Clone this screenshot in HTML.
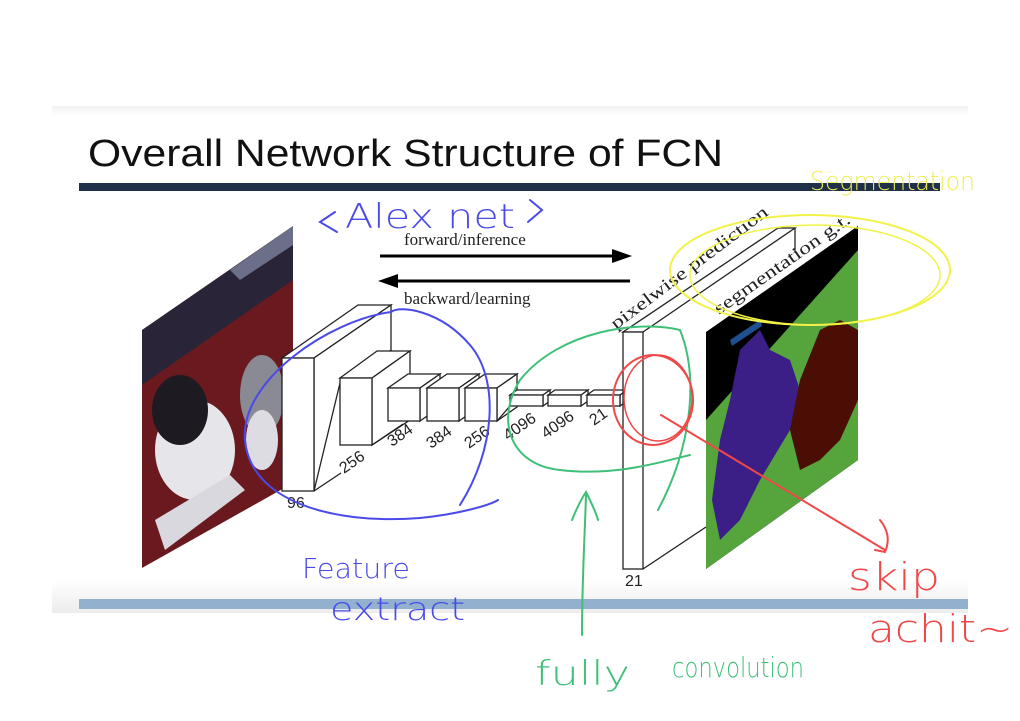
<!DOCTYPE html>
<html><head><meta charset="utf-8"><style>
html,body{margin:0;padding:0;background:#fff;width:1020px;height:721px;overflow:hidden}
svg{display:block}
.hw{font-family:"DejaVu Sans","Liberation Sans",sans-serif;font-weight:200}
</style></head><body>
<svg width="1020" height="721" viewBox="0 0 1020 721" xmlns="http://www.w3.org/2000/svg">
<defs>
<linearGradient id="tg" x1="0" y1="0" x2="0" y2="1"><stop offset="0" stop-color="#f2f2f2"/><stop offset="1" stop-color="#fff"/></linearGradient>
<linearGradient id="bg" x1="0" y1="0" x2="0" y2="1"><stop offset="0" stop-color="#fff"/><stop offset="1" stop-color="#ececec"/></linearGradient>
<clipPath id="pc"><polygon points="142,330 293,226 293,483 142,568"/></clipPath>
<clipPath id="sc"><polygon points="706,332 858,226 858,460 706,569"/></clipPath>
</defs>
<rect x="52" y="106" width="916" height="10" fill="url(#tg)"/>
<rect x="52" y="580" width="916" height="33" fill="url(#bg)"/>
<text x="88" y="166" font-family="Liberation Sans,sans-serif" font-size="38" fill="#111" textLength="635" lengthAdjust="spacingAndGlyphs">Overall Network Structure of FCN</text>
<rect x="79" y="183" width="861" height="8" fill="#1f3048"/>
<rect x="79" y="599" width="889" height="10" fill="#93b1cf"/>

<!-- photo -->
<g clip-path="url(#pc)">
<rect x="140" y="220" width="160" height="360" fill="#6a1a1e"/>
<polygon points="142,330 293,226 293,280 142,385" fill="#2a2438"/>
<polygon points="230,270 293,226 293,245 240,280" fill="#6b6f8a"/>
<ellipse cx="195" cy="450" rx="40" ry="50" fill="#e6e6ea"/>
<ellipse cx="180" cy="410" rx="28" ry="35" fill="#1e1a22"/>
<ellipse cx="262" cy="395" rx="22" ry="40" fill="#8a8a94"/>
<ellipse cx="262" cy="440" rx="16" ry="30" fill="#dcdce2"/>
<polygon points="155,520 230,475 245,490 165,550" fill="#d8d8de"/>
</g>

<!-- segmentation gt -->
<g clip-path="url(#sc)">
<rect x="700" y="220" width="165" height="360" fill="#000"/>
<polygon points="706,420 858,250 858,460 706,569" fill="#55a43c"/>
<polygon points="740,350 760,330 770,350 790,360 800,390 790,430 760,480 740,520 720,540 712,500 720,440 730,400" fill="#3b1e86"/>
<polygon points="800,380 820,330 840,320 858,330 858,400 840,440 820,460 800,470 790,430" fill="#4a0e04"/>
<polygon points="730,340 760,320 762,326 732,346" fill="#1f4f8f"/>
</g>

<!-- arrows -->
<text x="404" y="245" font-family="Liberation Serif,serif" font-size="17" fill="#222">forward/inference</text>
<line x1="380" y1="256" x2="615" y2="256" stroke="#000" stroke-width="3"/>
<polygon points="632,256 612,249 612,263" fill="#000"/>
<line x1="395" y1="281" x2="630" y2="281" stroke="#000" stroke-width="3"/>
<polygon points="378,281 398,274 398,288" fill="#000"/>
<text x="404" y="304" font-family="Liberation Serif,serif" font-size="17" fill="#222">backward/learning</text>

<g fill="#fff" stroke="#222" stroke-width="1.3">
<polygon points="282,358 358,305 391,305 314,358"/>
<polygon points="314,358 391,305 391,350 340,383 314,491"/>
<line x1="314" y1="491" x2="341" y2="473"/>
<rect x="282" y="358" width="32" height="133"/>
<polygon points="340,378 377,351 410,351 372,378"/>
<polygon points="372,378 410,351 410,420 372,445"/>
<rect x="340" y="378" width="32" height="67"/>
<line x1="372" y1="445" x2="403" y2="424"/>
<polygon points="388,388 408,374 440,374 420,388"/><polygon points="420,388 440,374 440,407 420,421"/><rect x="388" y="388" width="32" height="33"/>
<polygon points="427,388 447,374 479,374 459,388"/><polygon points="459,388 479,374 479,407 459,421"/><rect x="427" y="388" width="32" height="33"/>
<polygon points="465,388 485,374 517,374 497,388"/><polygon points="497,388 517,374 517,407 497,421"/><rect x="465" y="388" width="32" height="33"/>
<line x1="497" y1="421" x2="510" y2="406"/>
<polygon points="510,395 517,390 550,390 543,395"/><polygon points="543,395 550,390 550,401 543,406"/><rect x="510" y="395" width="33" height="11"/>
<polygon points="548,395 555,390 588,390 581,395"/><polygon points="581,395 588,390 588,401 581,406"/><rect x="548" y="395" width="33" height="11"/>
<polygon points="587,395 594,390 627,390 620,395"/><polygon points="620,395 627,390 627,401 620,406"/><rect x="587" y="395" width="33" height="11"/>
<polygon points="623,332 778,228 795,228 643,332"/>
<line x1="795" y1="228" x2="795" y2="252"/>
<line x1="643" y1="569" x2="706" y2="527"/>
<rect x="623" y="332" width="20" height="237"/>
</g>

<g font-family="Liberation Sans,sans-serif" font-size="16" fill="#222">
<text x="287" y="508">96</text>
<text x="625" y="586">21</text>
<text transform="translate(344,474) rotate(-35)">256</text>
<text transform="translate(392,447) rotate(-35)">384</text>
<text transform="translate(431,449) rotate(-35)">384</text>
<text transform="translate(469,449) rotate(-35)">256</text>
<text transform="translate(508,441) rotate(-35)">4096</text>
<text transform="translate(546,439) rotate(-35)">4096</text>
<text transform="translate(594,426) rotate(-35)">21</text>
</g>
<g font-family="Liberation Serif,serif" font-size="18" fill="#222">
<text transform="translate(616,330) rotate(-37)" textLength="192" lengthAdjust="spacingAndGlyphs">pixelwise prediction</text>
<text transform="translate(719,315) rotate(-35)" textLength="162" lengthAdjust="spacingAndGlyphs">segmentation g.t.</text>
</g>

<!-- annotations -->
<g fill="none" stroke-linecap="round">
<path d="M391,312 C330,320 240,380 245,440 C250,500 330,525 420,518 C460,514 490,505 498,500 M460,505 C495,450 500,380 470,345 C440,310 400,305 391,312" stroke="#4a4ae8" stroke-width="2"/>
<path d="M680,330 C640,320 560,330 520,380 C495,420 510,465 560,470 C610,476 650,465 690,455 M680,330 C700,380 690,450 658,510" stroke="#3fbf78" stroke-width="2"/>
<path d="M582,635 C582,580 585,530 586,495 M572,520 C578,505 584,495 586,492 C590,500 596,512 598,520" stroke="#3fbf78" stroke-width="2"/>
<ellipse cx="653" cy="400" rx="40" ry="45" stroke="#f04848" stroke-width="2"/>
<ellipse cx="658" cy="398" rx="34" ry="43" stroke="#f04848" stroke-width="1.5"/>
<path d="M661,415 L885,550 M880,520 C888,530 890,540 885,552 L875,550" stroke="#f04848" stroke-width="2"/>
<ellipse cx="810" cy="270" rx="140" ry="55" stroke="#f2f24a" stroke-width="2"/>
<ellipse cx="815" cy="275" rx="125" ry="50" stroke="#f2f24a" stroke-width="1.5"/>
<path d="M335,212 L320,222 L337,232 M530,200 L542,210 L528,222" stroke="#4a4ae8" stroke-width="2"/>
</g>
<g class="hw">
<text x="345" y="228" font-size="34" fill="#4a4ae8" textLength="170" lengthAdjust="spacingAndGlyphs">Alex net</text>
<text x="810" y="190" font-size="26" fill="#eeee55" textLength="165" lengthAdjust="spacingAndGlyphs">Segmentation</text>
<text x="302" y="578" font-size="28" fill="#4a4ae8" textLength="108" lengthAdjust="spacingAndGlyphs">Feature</text>
<text x="330" y="620" font-size="32" fill="#4a4ae8" textLength="135" lengthAdjust="spacingAndGlyphs">extract</text>
<text x="535" y="685" font-size="34" fill="#3fbf78" textLength="95" lengthAdjust="spacingAndGlyphs">fully</text>
<text x="672" y="677" font-size="28" fill="#3fbf78" textLength="132" lengthAdjust="spacingAndGlyphs">convolution</text>
<text x="848" y="590" font-size="38" fill="#f04848" textLength="92" lengthAdjust="spacingAndGlyphs">skip</text>
<text x="868" y="642" font-size="38" fill="#f04848" textLength="145" lengthAdjust="spacingAndGlyphs">achit~</text>
</g>
</svg>
</body></html>
